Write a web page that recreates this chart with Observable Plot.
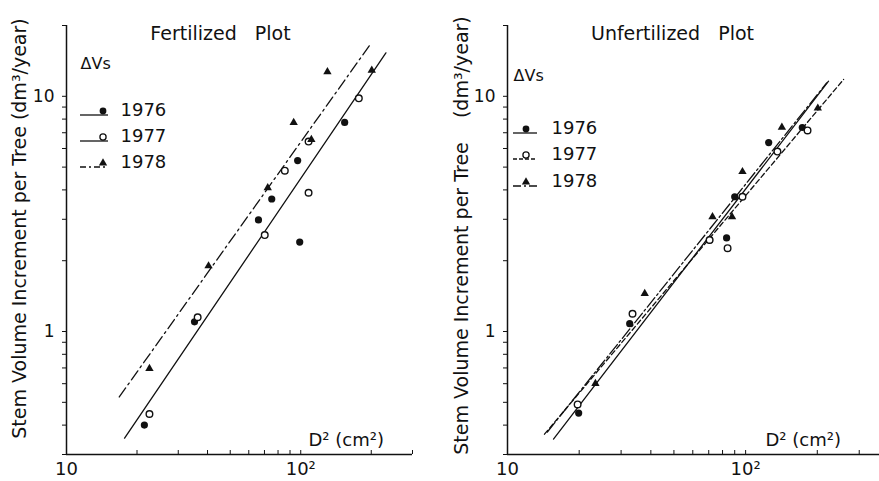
<!DOCTYPE html>
<html><head><meta charset="utf-8">
<script src="https://cdn.jsdelivr.net/npm/d3@7"></script>
<script src="https://cdn.jsdelivr.net/npm/@observablehq/plot@0.6"></script>
<style>
body{margin:0;background:#fff;}
#wrap{display:flex;width:879px;height:481px;overflow:hidden;}
#wrap svg{display:block;}
</style></head><body><div id="wrap"></div>
<script>
// ---------- data ----------
const years = ["1976", "1977", "1978"];

// Fertilized plot: D^2 (cm^2) and stem volume increment (dm^3/year)
const fertD2_1976 = [21.5, 35.2, 66, 75.2, 97, 99, 154];
const fertVs_1976 = [0.40, 1.10, 2.98, 3.66, 5.33, 2.40, 7.74];
const fertD2_1977 = [22.6, 36.3, 70.2, 85.5, 108, 108, 177];
const fertVs_1977 = [0.446, 1.15, 2.57, 4.83, 3.89, 6.42, 9.8];
const fertD2_1978 = [22.6, 40.4, 72.3, 93.3, 111, 130, 201];
const fertVs_1978 = [0.695, 1.90, 4.08, 7.74, 6.55, 12.7, 12.9];
// fitted lines (ends)
const fertFit7677D2 = [17.7, 231], fertFit7677Vs = [0.352, 15.3];
const fertFit1978D2 = [16.8, 197], fertFit1978Vs = [0.527, 16.5];

// Unfertilized plot
const unfD2_1976 = [19.9, 32.6, 70.6, 83.2, 90, 125, 173];
const unfVs_1976 = [0.45, 1.08, 2.45, 2.50, 3.74, 6.36, 7.37];
const unfD2_1977 = [19.7, 33.5, 70.6, 84, 97, 136, 182];
const unfVs_1977 = [0.49, 1.19, 2.45, 2.26, 3.74, 5.82, 7.16];
const unfD2_1978 = [23.4, 37.7, 72.6, 87.7, 97, 142, 201];
const unfVs_1978 = [0.60, 1.45, 3.07, 3.07, 4.78, 7.38, 8.9];
const unfFit1976D2 = [15.6, 223], unfFit1976Vs = [0.349, 11.6];
const unfFit1977D2 = [14.3, 258], unfFit1977Vs = [0.366, 11.8];
const unfFit1978D2 = [14.7, 219], unfFit1978Vs = [0.374, 11.4];

// ticks
const xTicks = [10, 20, 30, 40, 50, 60, 70, 80, 90, 100, 200, 300];
const xTickLabels = [["10", 10], ["10²", 100]];
const yTicks = [0.3, 0.4, 0.5, 0.6, 0.7, 0.8, 0.9, 1, 2, 3, 4, 5, 6, 7, 8, 9, 10, 20];
const yTickLabels = [["1", 1], ["10", 10]];

// ---------- helpers ----------
const FONT = "'DejaVu Sans', sans-serif";
const INK = "#111";
const zipPts = (xs, ys) => xs.map((x, i) => ({x, y: ys[i]}));
const xLab = new Map(xTickLabels.map(([t, v]) => [v, t]));
const yLab = new Map(yTickLabels.map(([t, v]) => [v, t]));

function panel({width, marginLeft, marginRight, xMax, title, titleX, ylabel, ylabelX, ylabelY, d2x,
                series, fits, legend}) {
  const mt = 25, mb = 27, H = 481;
  const at = (px, py) => ({frameAnchor: "top-left", dx: px - marginLeft, dy: py - mt});
  const marks = [
    Plot.ruleX([10], {stroke: INK, strokeWidth: 1.5}),
    Plot.ruleY([0.3], {stroke: INK, strokeWidth: 1.5}),
    Plot.axisX({ticks: xTicks, tickSize: -4, tickFormat: () => "", stroke: INK, label: null}),
    Plot.axisX({ticks: [10, 100], tickSize: 0, tickPadding: 8, tickFormat: d => xLab.get(d) ?? "",
                fontSize: 18, fill: INK, label: null}),
    Plot.axisY({ticks: yTicks, tickSize: 4, tickPadding: 8, tickFormat: d => yLab.get(d) ?? "",
                fontSize: 17, fill: INK, stroke: INK, label: null}),
  ];
  for (const f of fits) {
    marks.push(Plot.line(zipPts(f.x, f.y), {x: "x", y: "y", stroke: INK, strokeWidth: 1.3,
      strokeDasharray: f.dash}));
  }
  for (const s of series) {
    const pts = zipPts(s.x, s.y);
    if (s.sym === "open") marks.push(Plot.dot(pts, {x: "x", y: "y", r: 3.3, fill: "white", stroke: INK, strokeWidth: 1.4}));
    else if (s.sym === "filled") marks.push(Plot.dot(pts, {x: "x", y: "y", r: 3.6, fill: INK}));
    else marks.push(Plot.dot(pts, {x: "x", y: "y", r: 3.1, symbol: "triangle", fill: INK}));
  }
  marks.push(
    Plot.text([title], {...at(titleX, 33), text: d => d, textAnchor: "middle", lineAnchor: "middle", fontSize: 19, fill: INK}),
    Plot.text([ylabel], {...at(ylabelX, ylabelY), text: d => d, rotate: -90, textAnchor: "middle", lineAnchor: "middle", fontSize: 19, fill: INK}),
    Plot.text(["D² (cm²)"], {...at(d2x, 440), text: d => d, textAnchor: "start", lineAnchor: "middle", fontSize: 18, fill: INK}),
    Plot.text(["ΔVs"], {...at(legend.x0, legend.head), text: d => d, textAnchor: "start", lineAnchor: "middle", fontSize: 16, fill: INK})
  );
  legend.rows.forEach((r, i) => {
    marks.push(Plot.text([years[i]], {...at(legend.tx, r), text: d => d, textAnchor: "start", lineAnchor: "middle", fontSize: 18, fill: INK}));
  });
  const svg = Plot.plot({
    width, height: H, marginLeft, marginRight, marginTop: mt, marginBottom: mb,
    x: {type: "log", domain: [10, xMax]},
    y: {type: "log", domain: [0.3, 20]},
    style: {fontFamily: FONT, background: "white", color: INK},
    marks
  });
  // legend line samples
  const g = d3.select(svg).append("g");
  legend.rows.forEach((r, i) => {
    const ly = r + 5;
    g.append("line").attr("x1", legend.x0).attr("x2", legend.x1).attr("y1", ly).attr("y2", ly)
      .attr("stroke", INK).attr("stroke-width", 1.3).attr("stroke-dasharray", legend.dash[i]);
    const sx = legend.mx, sy = r + 1;
    const sym = series[i].sym;
    if (sym === "triangle") {
      g.append("path").attr("transform", `translate(${sx},${sy})`)
        .attr("d", d3.symbol(d3.symbolTriangle, 3.1 * 3.1 * Math.PI)()).attr("fill", INK);
    } else {
      g.append("circle").attr("cx", sx).attr("cy", sy).attr("r", sym === "open" ? 3.1 : 3.4)
        .attr("fill", sym === "open" ? "white" : INK).attr("stroke", INK).attr("stroke-width", sym === "open" ? 1.3 : 0);
    }
  });
  return svg;
}

const wrap = document.getElementById("wrap");
wrap.append(panel({
  width: 440, marginLeft: 66, marginRight: 28, xMax: 300,
  title: "Fertilized\u00a0\u00a0 Plot", titleX: 220,
  ylabel: "Stem Volume Increment per Tree (dm³/year)", ylabelX: 19, ylabelY: 228, d2x: 308,
  series: [
    {x: fertD2_1976, y: fertVs_1976, sym: "filled"},
    {x: fertD2_1977, y: fertVs_1977, sym: "open"},
    {x: fertD2_1978, y: fertVs_1978, sym: "triangle"}
  ],
  fits: [
    {x: fertFit7677D2, y: fertFit7677Vs, dash: null},
    {x: fertFit1978D2, y: fertFit1978Vs, dash: "11,4,2,4"}
  ],
  legend: {x0: 80, x1: 108, mx: 103, tx: 120, head: 63, rows: [110, 136, 162], dash: [null, null, "6,3,2,3"]}
}));
wrap.append(panel({
  width: 439, marginLeft: 67, marginRight: 0, xMax: 365,
  title: "Unfertilized\u00a0\u00a0 Plot", titleX: 232,
  ylabel: "Stem Volume Increment per Tree\u00a0\u00a0\u00a0\u00a0(dm³/year)", ylabelX: 21, ylabelY: 235, d2x: 325,
  series: [
    {x: unfD2_1976, y: unfVs_1976, sym: "filled"},
    {x: unfD2_1977, y: unfVs_1977, sym: "open"},
    {x: unfD2_1978, y: unfVs_1978, sym: "triangle"}
  ],
  fits: [
    {x: unfFit1976D2, y: unfFit1976Vs, dash: null},
    {x: unfFit1977D2, y: unfFit1977Vs, dash: "5,3"},
    {x: unfFit1978D2, y: unfFit1978Vs, dash: "12,3,2,3"}
  ],
  legend: {x0: 73, x1: 97, mx: 86, tx: 111, head: 75, rows: [128, 154, 181], dash: [null, "4,2", "8,3,2,3"]}
}));
</script></body></html>
